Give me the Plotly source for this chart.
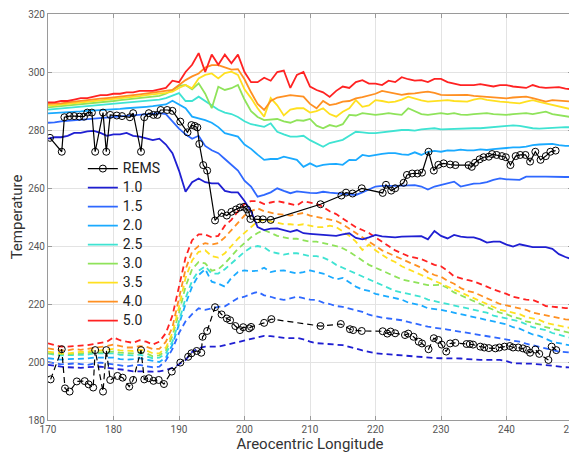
import plotly.graph_objects as go

lon = list(range(170, 251))

heights = ["1.0", "1.5", "2.0", "2.5", "3.0", "3.5", "4.0", "5.0"]
colors = ["#1f1fd2", "#2f68ff", "#1aaaff", "#3fe3d2", "#8fe35a", "#ffe020", "#ff9022", "#ff2222"]

# ---- daytime model temperatures (solid) ----
day_10 = [277, 277.5, 277.5, 278, 279, 279, 279.5, 279.7, 279, 278, 278.5, 278.5, 279, 278, 277.7, 277, 276.5, 277, 275, 272,
          266, 258.7, 262, 263.3, 262, 261.6, 261.6, 259, 258.5, 258.5, 255.5, 252, 246.5, 245.5, 246, 246.1, 245.5, 244.9, 245.5, 244.4,
          244.2, 244, 243.8, 243.8, 243.5, 244, 244.4, 242.8, 242.3, 243, 243.8, 243.3, 243.2, 243, 243.2, 243.3, 243.4, 243.4, 242.3, 245.2,
          243.5, 242.6, 243.8, 243.2, 243, 243, 242.3, 241.2, 241.5, 241.5, 240.5, 239.8, 240.6, 240, 239.6, 239.6, 239.6, 239, 237.2, 236.2, 235.4]
day_15 = [282.5, 282.6, 283, 283.2, 283.4, 283.6, 283.8, 284, 284.2, 284.4, 284.5, 284.7, 284.8, 285, 285.2, 285.4, 285.6, 285.8, 285.5, 283,
          280.5, 278.5, 277, 278, 274.5, 273, 272, 270, 268, 266, 262.5, 260.5, 257, 257.6, 258.5, 259.9, 259, 258.2, 258.8, 258.5,
          258.3, 258.2, 258.7, 258.4, 258.2, 258.2, 258, 257.6, 258.5, 259.5, 260.5, 260.7, 260.6, 260.7, 260.8, 261, 261, 260.5, 259.5, 260.5,
          261, 261.5, 262.2, 260.5, 261, 261.5, 261.6, 262, 262.8, 263.3, 263, 262.8, 262.8, 263.9, 263.8, 263.9, 263.9, 263.8, 263.7, 263.8, 263.8]
day_20 = [285.7, 285.8, 286, 286.1, 286.3, 286.4, 286.6, 286.7, 286.9, 287, 287.2, 287.3, 287.5, 287.6, 287.8, 288, 288.2, 288.4, 288.8, 290.1,
          288.8, 287.5, 284.6, 284, 283.4, 282.5, 281, 278.9, 278.3, 277.7, 275, 273.5, 271.5, 269.7, 270, 270, 270.8, 270.2, 269.7, 267.3,
          268.5, 267.4, 268, 268.2, 268.3, 268, 269.7, 269.6, 271.4, 271, 271.5, 271.8, 272, 272, 271.6, 271.4, 272.3, 271.4, 272.5, 272.8,
          272.5, 273, 272.9, 273.2, 273, 273, 273.3, 273.1, 273.4, 273.5, 273.8, 274, 274, 274.3, 274.8, 275, 275.2, 275.2, 274.8, 274.5, 274.5]
day_25 = [287, 287.2, 287.4, 287.6, 287.8, 288, 288.2, 288.4, 288.6, 288.8, 289, 289.2, 289.4, 289.6, 289.8, 290, 290.2, 290.5, 291, 291.8,
          292.7, 290, 290, 291.5, 290, 288.5, 287, 286, 285.5, 284.5, 283, 282, 281.5, 281.1, 282.3, 279.4, 278.5, 277.7, 277.7, 278,
          276.5, 275.4, 274.2, 275.5, 276, 276.6, 278, 279.4, 279.2, 278.9, 278.9, 279.2, 279.5, 279.8, 280, 280, 279.8, 280.2, 280.4, 280.6,
          280.2, 280.3, 280.5, 280.6, 280.5, 280.6, 280.6, 280.8, 281, 281.2, 281.4, 281.6, 281.4, 281, 280.6, 280.5, 280.6, 280.8, 281, 281, 280.9]
day_30 = [287.8, 288, 288.2, 288.5, 288.7, 289, 289.2, 289.4, 289.6, 289.8, 290, 290.3, 290.5, 290.8, 291, 291.3, 291.5, 291.8, 292.5, 293.8,
          295.2, 295.5, 294, 296.1, 292.5, 287.5, 294.9, 293.8, 294.4, 295.5, 290.5, 286.5, 284.5, 283.4, 283.5, 283.8, 283, 282.5, 283.4, 283.2,
          283.8, 281.5, 280.6, 281.7, 281.2, 282, 285.2, 285, 285.8, 285.5, 285.2, 285.5, 285.8, 285.5, 285.2, 287.5, 286.5, 285.5, 285.2, 285.5,
          285.8, 285.5, 285.8, 285.3, 285.2, 285.5, 285.6, 285.8, 285.5, 285.3, 285.2, 285.5, 285.6, 285.8, 285.5, 285.8, 286.3, 285.5, 285.2, 284.7, 284.4]
day_35 = [288.5, 288.5, 288.8, 289, 289.2, 289.5, 289.8, 290, 290.2, 290.5, 290.7, 291, 291.2, 291.5, 291.7, 292, 292.2, 292.5, 292.8, 293.2,
          294.5, 295.5, 294.4, 297.8, 299, 299.5, 297.8, 299.6, 300.1, 299, 294, 291, 287.5, 284.6, 291, 288.5, 285, 287, 287.5, 287.5,
          286, 286.5, 287.5, 285.5, 284.6, 286.3, 287.5, 290.3, 288, 288.5, 290.3, 290, 289.5, 289.8, 290.5, 291.5, 290.8, 290.2, 289.8, 290,
          290.3, 290.3, 290, 289.8, 289.8, 290.5, 290.9, 290.4, 290, 289.8, 289.6, 289.4, 289.2, 289.8, 290.3, 289.7, 289.2, 288.5, 288, 287.6, 287.1]
day_40 = [289, 289, 289.2, 289.5, 289.8, 290, 290.3, 290.5, 290.8, 291, 291.2, 291.5, 291.8, 292, 292.3, 292.6, 292.8, 293.2, 293.5, 293.8,
          295.5, 297.2, 298.5, 299.5, 301.5, 302.4, 302.4, 301.5, 300.8, 301, 297.5, 293, 289, 286.9, 290, 291.2, 291.5, 292, 291.8, 291.5,
          289, 287.5, 290, 288.6, 289, 289.8, 290, 290.9, 291.3, 292, 292.5, 293.5, 293, 292.5, 292.1, 292.5, 292.6, 293, 293.2, 292.8,
          292.1, 292, 292.1, 292, 292.1, 291.8, 291.6, 291.5, 291.2, 291, 290.9, 291.2, 291.3, 291.5, 291, 290.5, 289.8, 290.3, 290.2, 289.9, 289.8]
day_50 = [289.5, 289.5, 290, 290, 290.5, 291, 291, 291.5, 292, 292, 292.5, 292.5, 293, 293, 293.5, 293.5, 293.5, 294, 294.5, 297,
          296.5, 300, 302.5, 306.5, 300, 306, 302.5, 306, 303, 306, 300, 296.5, 296.5, 298, 297, 300, 300.5, 294.5, 299, 300,
          295, 293.8, 293, 291.4, 293.5, 295, 294.5, 296.5, 297.2, 296, 296, 295.5, 297, 296.5, 298.2, 297.5, 297, 297.2, 296.5, 297.6,
          297.6, 296.5, 296, 295.5, 295.5, 295.5, 295.8, 295.5, 295, 295.5, 295.5, 295, 294.7, 294.5, 295.5, 294.8, 294.5, 294.7, 294.8, 294.3, 294]

# ---- nighttime model temperatures (dashed) ----
night_10 = [199, 198.6, 198.4, 198.2, 198, 198, 198.2, 198.4, 198.4, 198, 197.8, 197.5, 197.2, 196.8, 196.7, 196.6, 196.7, 196.8, 197.2, 198,
            199.2, 200.7, 203.5, 204.8, 205.3, 205.3, 205.3, 205.8, 206.3, 206.8, 207.4, 207.8, 208.4, 209, 208.9, 208.5, 208.3, 208.2, 208.3, 207.8,
            207, 206.5, 206.3, 206.1, 206, 205.8, 205.2, 204.5, 204, 203.5, 203, 202.8, 202.6, 202.5, 202.3, 202, 201.9, 201.8, 201.6, 201.4,
            201.3, 201.3, 201.3, 201.2, 201, 200.8, 200.7, 200.7, 200.7, 200.7, 200.3, 199.6, 199.5, 199.5, 199.4, 199.2, 198.9, 198.7, 198.5, 198.2, 198.1]
night_15 = [200, 199.5, 199.2, 199.3, 199.5, 199.3, 199, 199.5, 199.8, 199.5, 199.2, 198.8, 198.5, 198.8, 199, 198.5, 198.2, 198.4, 200.5, 204.5,
            210, 214, 216.5, 218.5, 218, 218.5, 219, 219.2, 220.5, 222, 222.5, 223.5, 224.2, 223, 222.5, 221.8, 221.4, 222, 222.5, 222,
            221.5, 221.4, 220.5, 220, 219.3, 219, 218.5, 218, 217.3, 216.3, 215.7, 215.3, 215, 214.8, 214.4, 213.8, 213.2, 212.6, 212.2, 211.8,
            211.6, 211.2, 210.8, 210.5, 210.1, 209.7, 209.3, 208.9, 208.6, 208.2, 207.8, 207.4, 207, 206.3, 205.8, 205.3, 204.8, 204.2, 203.6, 203.4, 203.2]
night_20 = [201.3, 201, 200.8, 201, 201, 201.2, 201.2, 201.5, 201.5, 201.3, 201.5, 201, 200.8, 201, 201.3, 200.8, 200.5, 200, 201.5, 206,
            213, 220, 226, 230, 232, 227.7, 227, 226, 229, 231, 231.6, 231.3, 231.5, 232.5, 231, 231.5, 231.6, 231, 230.5, 231,
            231.6, 231, 230.5, 229.5, 228.5, 229, 227.5, 226, 225, 224.5, 223.5, 223, 222.5, 222, 221.5, 220.5, 220, 219.5, 218.5, 218.3,
            218, 217.5, 217, 216.5, 216, 215.5, 215, 214.5, 214, 213.5, 213, 212, 211.5, 210.5, 209.5, 209, 208, 207, 206.5, 206, 205.6]
night_25 = [203, 202.5, 202.3, 202.3, 202.5, 202.5, 202.5, 203, 203, 203, 203, 202.5, 202.3, 202.3, 202.5, 202, 201.3, 201.5, 203, 207,
            214, 222, 228, 231.5, 233, 230.5, 230.5, 232, 234, 236, 238, 239.5, 240, 239.5, 238, 237.5, 237, 237.5, 237.5, 237,
            236.5, 236.5, 236, 235, 233.5, 232.5, 231.5, 230.5, 229.5, 228.5, 227.5, 226.5, 225.5, 224.5, 224, 223.5, 223, 222.5, 221.5, 221,
            220.5, 220, 219.5, 219, 218.5, 218, 217.5, 217, 216, 215.5, 215, 214.5, 214, 213, 212, 211.5, 211, 210, 209.5, 208.8, 208.2]
night_30 = [203, 202.8, 202.6, 202.6, 202.8, 203, 203, 203.3, 203.3, 203.5, 203.6, 203.2, 203, 203, 203.3, 203, 202, 202.3, 204, 209,
            217, 226, 232, 234.5, 234, 231.5, 232, 234, 236.5, 239, 241, 243, 244.5, 245.5, 244.5, 243.5, 243, 242.5, 242.5, 242,
            241.5, 241.5, 241, 240.5, 240, 239.2, 238, 236.5, 235, 233.5, 232.5, 231.5, 230.5, 229.5, 228.5, 228, 227.5, 227, 226.5, 226.5,
            226.6, 225.5, 224, 223, 222, 221, 220, 219, 218, 217, 216.5, 215.5, 215, 214, 213.5, 213, 212, 211.5, 211, 210.5, 209.9]
night_35 = [203.6, 203.2, 203, 203, 203.3, 203.5, 203.5, 204, 204, 204.3, 204.5, 204, 203.8, 203.8, 204.2, 204, 203, 203, 205, 210,
            219, 229, 235, 238, 238.5, 236.5, 236, 237.5, 240, 242.5, 244.5, 246.5, 248.5, 249, 248.5, 248, 247.5, 247.5, 247.2, 247.5,
            247, 246.5, 246.5, 247, 246.5, 245, 243.5, 241.5, 238.6, 240.5, 238.5, 237, 235.5, 234.5, 233, 232, 231, 230, 229, 228,
            227, 226, 225, 224, 223, 222, 221, 220, 219, 218, 217.5, 217, 216.5, 215.5, 215, 214.5, 213.5, 213, 212.5, 212, 211.6]
night_40 = [204.7, 204.3, 204, 204, 204.5, 204.2, 204.5, 205, 205.2, 205.5, 206, 205.5, 205, 205, 205.5, 205.3, 204.5, 204.5, 207, 212,
            222, 232, 238, 240, 241, 240.5, 241, 243, 245.5, 248, 250.5, 252, 253, 252, 251.4, 251, 250.8, 250.5, 251, 251.4,
            250.5, 250, 249.7, 249, 248.6, 247.5, 246, 244.5, 243, 241.5, 240, 238.5, 237.5, 236.5, 235.5, 234.5, 233.5, 232.5, 231, 230,
            229.4, 228, 227, 225.5, 224.5, 224, 223, 222, 221, 220, 219.5, 219, 218.5, 218, 217, 216.5, 216, 215.5, 215, 214.7, 214.5]
night_50 = [206.4, 205.8, 205.3, 205.3, 205.4, 205.5, 205.8, 206.2, 206.5, 207, 208.5, 207.5, 207, 206.6, 207.5, 207, 206, 207, 210, 216,
            226, 236, 242, 244, 244, 243, 243.5, 247, 249, 252, 254.5, 255.5, 255.5, 254.5, 255, 255.5, 255, 254.5, 254, 255.5,
            255, 254.5, 253.5, 252, 251, 249.5, 248, 246.5, 245.5, 244.5, 243, 241.5, 240, 238.5, 237.5, 236.5, 236, 235.5, 234.5, 233.5,
            233, 231.5, 229.5, 228.8, 228.3, 227.8, 227, 226, 225, 224.3, 223.5, 222.5, 222, 221.5, 221.4, 220.5, 219.3, 219, 218.8, 218.6, 218.5]

# ---- REMS observations ----
rems_day_lon = [170.3, 172.1, 172.5, 173.3, 174.0, 174.8, 175.5, 176.0, 176.7, 177.2, 178.4, 178.9, 179.5, 180.5, 181.3, 182.5, 183.0,
                184.2, 184.7, 185.4, 186.1, 186.7, 187.2, 188.2, 189.0, 190.2, 191.3, 191.9, 192.4, 192.8, 193.1, 193.7, 194.3, 195.5,
                196.5, 197.3, 198.0, 198.7, 199.3, 199.9, 200.4, 200.7, 200.9, 202.0, 202.8, 204.0, 211.6, 214.8, 215.5, 216.5, 217.9,
                221.1, 221.6, 222.4, 223.0, 224.3, 224.8, 225.6, 226.4, 227.1, 228.1, 228.9, 229.6, 230.4, 231.4, 232.2, 234.2, 234.7,
                235.2, 235.9, 236.5, 237.3, 237.8, 238.5, 239.3, 239.9, 240.6, 241.4, 242.1, 242.9, 243.6, 244.4, 245.2, 246.0, 246.7, 247.5]
rems_day_t = [277.3, 272.5, 284.4, 284.8, 284.8, 284.6, 284.6, 286.0, 286.0, 272.5, 286.0, 272.5, 285.2, 285.0, 284.8, 284.4, 285.8,
              272.5, 284.4, 285.8, 285.2, 285.2, 286.9, 286.9, 286.6, 282.9, 279.2, 281.7, 281.4, 280.9, 275.2, 267.9, 266.0, 248.8,
              251.4, 250.5, 251.8, 252.6, 253.3, 253.5, 252.6, 251.3, 249.3, 249.2, 249.2, 249.0, 254.4, 257.4, 258.4, 258.1, 259.9,
              258.3, 261.1, 259.1, 259.9, 261.8, 264.5, 265.0, 265.0, 265.3, 272.5, 266.0, 268.0, 268.5, 268.1, 267.9, 267.9, 267.3,
              268.7, 269.9, 270.6, 270.8, 271.7, 271.4, 271.0, 270.6, 267.9, 271.0, 271.4, 271.4, 269.1, 272.5, 269.7, 271.0, 272.5, 272.9]
rems_night_lon = [170.4, 172.1, 172.6, 173.3, 174.4, 175.6, 176.2, 176.9, 177.2, 178.4, 178.9, 179.5, 180.6, 181.4, 182.4, 183.0, 184.2,
                  184.7, 185.4, 186.1, 186.9, 187.7, 188.9, 190.2, 191.4, 191.9, 192.7, 193.4, 193.6, 194.3, 195.5, 196.5, 197.3, 197.8,
                  198.6, 199.3, 199.8, 200.7, 201.0, 203.0, 204.1, 211.6, 214.7, 216.1, 216.6, 217.9, 221.1, 221.8, 222.3, 223.0, 224.5,
                  225.0, 225.8, 226.6, 227.1, 228.1, 228.9, 229.6, 230.1, 230.8, 231.4, 232.2, 233.9, 234.4, 234.9, 236.0, 236.6, 237.3,
                  238.3, 238.9, 239.7, 240.5, 241.0, 241.8, 242.5, 243.1, 243.6, 244.4, 245.0, 246.4, 246.9, 247.6]
rems_night_t = [194.0, 204.4, 190.9, 189.8, 193.3, 193.4, 192.3, 191.2, 204.1, 189.8, 204.1, 193.8, 195.2, 194.6, 191.5, 193.8, 204.1,
                194.0, 194.4, 193.5, 193.8, 192.4, 196.7, 199.8, 201.8, 203.0, 203.8, 203.2, 208.7, 210.7, 218.9, 216.4, 215.0, 214.4,
                212.4, 211.0, 212.0, 211.6, 212.1, 213.5, 214.8, 212.4, 213.1, 211.3, 211.0, 210.7, 210.6, 209.8, 210.5, 209.9, 209.3,
                209.8, 208.7, 207.0, 206.4, 204.4, 208.2, 207.6, 206.0, 203.6, 206.4, 206.6, 206.2, 206.2, 206.0, 205.3, 205.0, 204.8,
                204.7, 205.0, 205.3, 205.5, 205.0, 205.0, 204.7, 204.2, 203.2, 204.3, 202.8, 200.7, 205.3, 204.1]

x_ticks = [170, 180, 190, 200, 210, 220, 230, 240, 250]
y_ticks = [180, 200, 220, 240, 260, 280, 300, 320]

day = [day_10, day_15, day_20, day_25, day_30, day_35, day_40, day_50]
night = [night_10, night_15, night_20, night_25, night_30, night_35, night_40, night_50]

fig = go.Figure()
FONT = "Roboto, Arial, sans-serif"


def legend_label(text):
    return '<span style="font-size:14px">' + text + '</span>'


for h, c, vals in zip(heights, colors, night):
    fig.add_trace(go.Scatter(x=lon, y=vals, mode="lines", showlegend=False,
                             line=dict(color=c, width=1.8, dash="6px,4px")))
for i, (h, c, vals) in enumerate(zip(heights, colors, day)):
    fig.add_trace(go.Scatter(x=lon, y=vals, mode="lines", name=legend_label(h), legendrank=10 + i,
                             line=dict(color=c, width=1.8)))

fig.add_trace(go.Scatter(x=rems_night_lon, y=rems_night_t, mode="lines+markers", showlegend=False,
                         line=dict(color="black", width=1.2, dash="6px,4px"),
                         marker=dict(symbol="circle-open", size=7, color="black", line=dict(width=1))))
fig.add_trace(go.Scatter(x=rems_day_lon, y=rems_day_t, mode="lines+markers", name=legend_label("REMS"), legendrank=1,
                         line=dict(color="black", width=1.2),
                         marker=dict(symbol="circle-open", size=7, color="black", line=dict(width=1))))

axis_common = dict(showgrid=True, gridcolor="#e3e3e3", gridwidth=1, zeroline=False,
                   showline=True, linecolor="#9a9a9a", linewidth=1, mirror="ticks",
                   ticks="inside", ticklen=4, tickcolor="#9a9a9a", automargin=False,
                   ticklabeloverflow="allow",
                   tickfont=dict(family=FONT, size=10, color="#555555"))

fig.update_xaxes(range=[170, 250], tickvals=x_ticks, ticktext=[str(v) for v in x_ticks],
                 title=dict(text="Areocentric Longitude", font=dict(family=FONT, size=15, color="#333333"), standoff=10),
                 **axis_common)
fig.update_yaxes(range=[180, 320], tickvals=y_ticks, ticktext=[str(v) for v in y_ticks],
                 title=dict(text="Temperature", font=dict(family=FONT, size=15, color="#333333"), standoff=2),
                 **axis_common)

# the page body adds an 8px offset, so the figure is sized to the remaining window
fig.update_layout(
    width=569, height=445,
    margin=dict(l=40, r=5, t=6, b=33),
    paper_bgcolor="white", plot_bgcolor="white",
    showlegend=True,
    legend=dict(x=0.0665, y=0.655, xanchor="left", yanchor="top",
                bgcolor="rgba(0,0,0,0)", borderwidth=0,
                font=dict(family=FONT, size=12.3, color="#222222"),
                itemwidth=30, tracegroupgap=0),
)

fig.write_html("out.html")
